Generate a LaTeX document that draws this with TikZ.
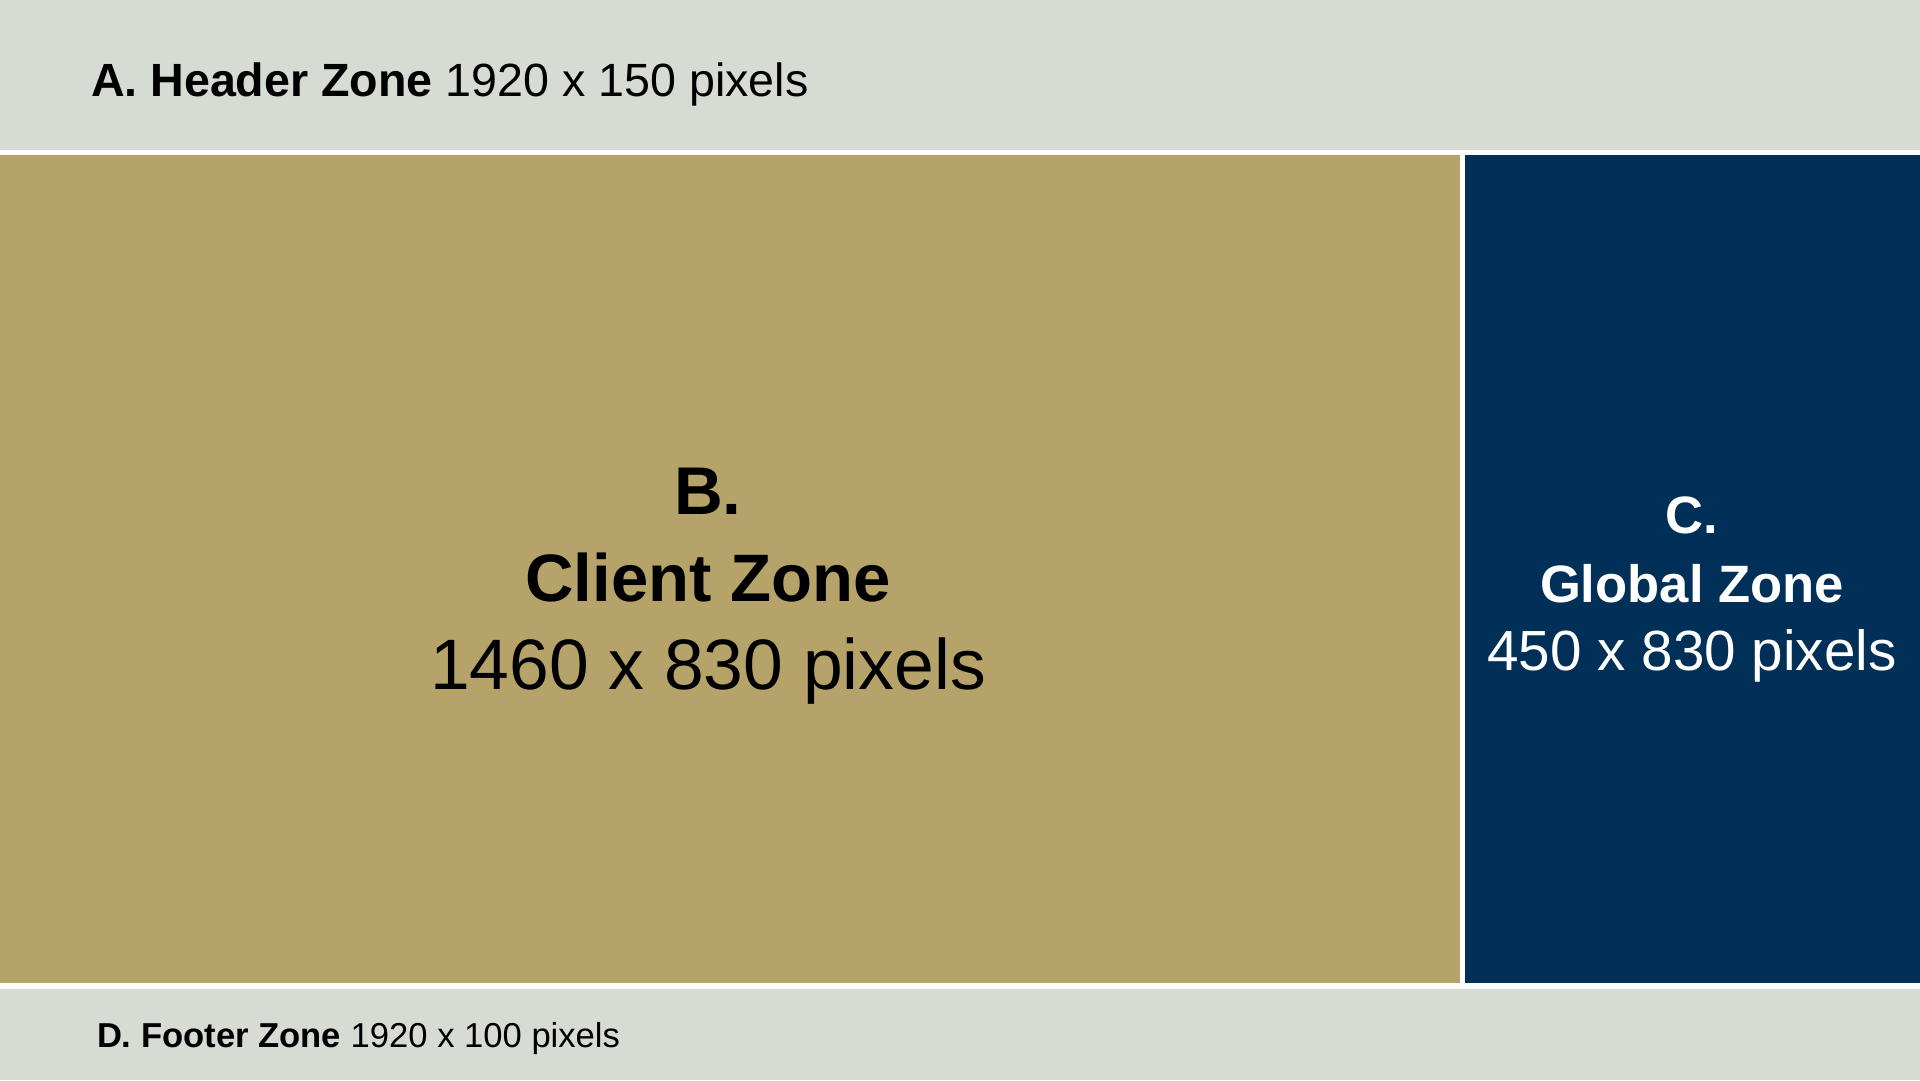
\documentclass[tikz,border=0pt]{standalone}
\usepackage{fontspec}
\setmainfont{Liberation Sans}
\definecolor{zonegray}{HTML}{D6DBD4}
\definecolor{zonegold}{HTML}{B5A369}
\definecolor{zonenavy}{HTML}{003057}
\tikzset{
  zone/.style={inner sep=0pt, outer sep=0pt, draw=none, anchor=north west},
  lbl/.style={inner sep=0pt, outer sep=0pt, anchor=base},
  lblw/.style={inner sep=0pt, outer sep=0pt, anchor=base west}
}
\begin{document}
\begin{tikzpicture}[x=1pt,y=-1pt]
\useasboundingbox (0,0) rectangle (1920,1080);
\fill[white] (0,0) rectangle (1920,1080);
\node[zone, fill=zonegray, minimum width=1920pt, minimum height=150pt] (header) at (0,0) {};
\node[zone, fill=zonegold, minimum width=1460pt, minimum height=828pt] (client) at (0,155) {};
\node[zone, fill=zonenavy, minimum width=455pt, minimum height=828pt] (global) at (1465,155) {};
\node[zone, fill=zonegray, minimum width=1920pt, minimum height=91pt] (footer) at (0,989) {};
\node[lblw] (htext) at (91,96) {\fontsize{46.6}{56}\selectfont\textbf{A. Header Zone} 1920 x 150 pixels};
\node[lblw] (ftext) at (97,1047) {\fontsize{34.6}{42}\selectfont\textbf{D. Footer Zone} 1920 x 100 pixels};
\node[lbl] (b1) at (708,514) {\fontsize{67.5}{80}\selectfont\textbf{B.}};
\node[lbl] (b2) at (708,601) {\fontsize{67.1}{80}\selectfont\textbf{Client Zone}};
\node[lbl] (b3) at (708,689) {\fontsize{71.4}{86}\selectfont 1460 x 830 pixels};
\node[lbl, text=white] (c1) at (1692,533) {\fontsize{52.6}{62}\selectfont\textbf{C.}};
\node[lbl, text=white] (c2) at (1692,602) {\fontsize{52.6}{62}\selectfont\textbf{Global Zone}};
\node[lbl, text=white] (c3) at (1692,670) {\fontsize{56.6}{70}\selectfont 450 x 830 pixels};
\end{tikzpicture}
\end{document}
